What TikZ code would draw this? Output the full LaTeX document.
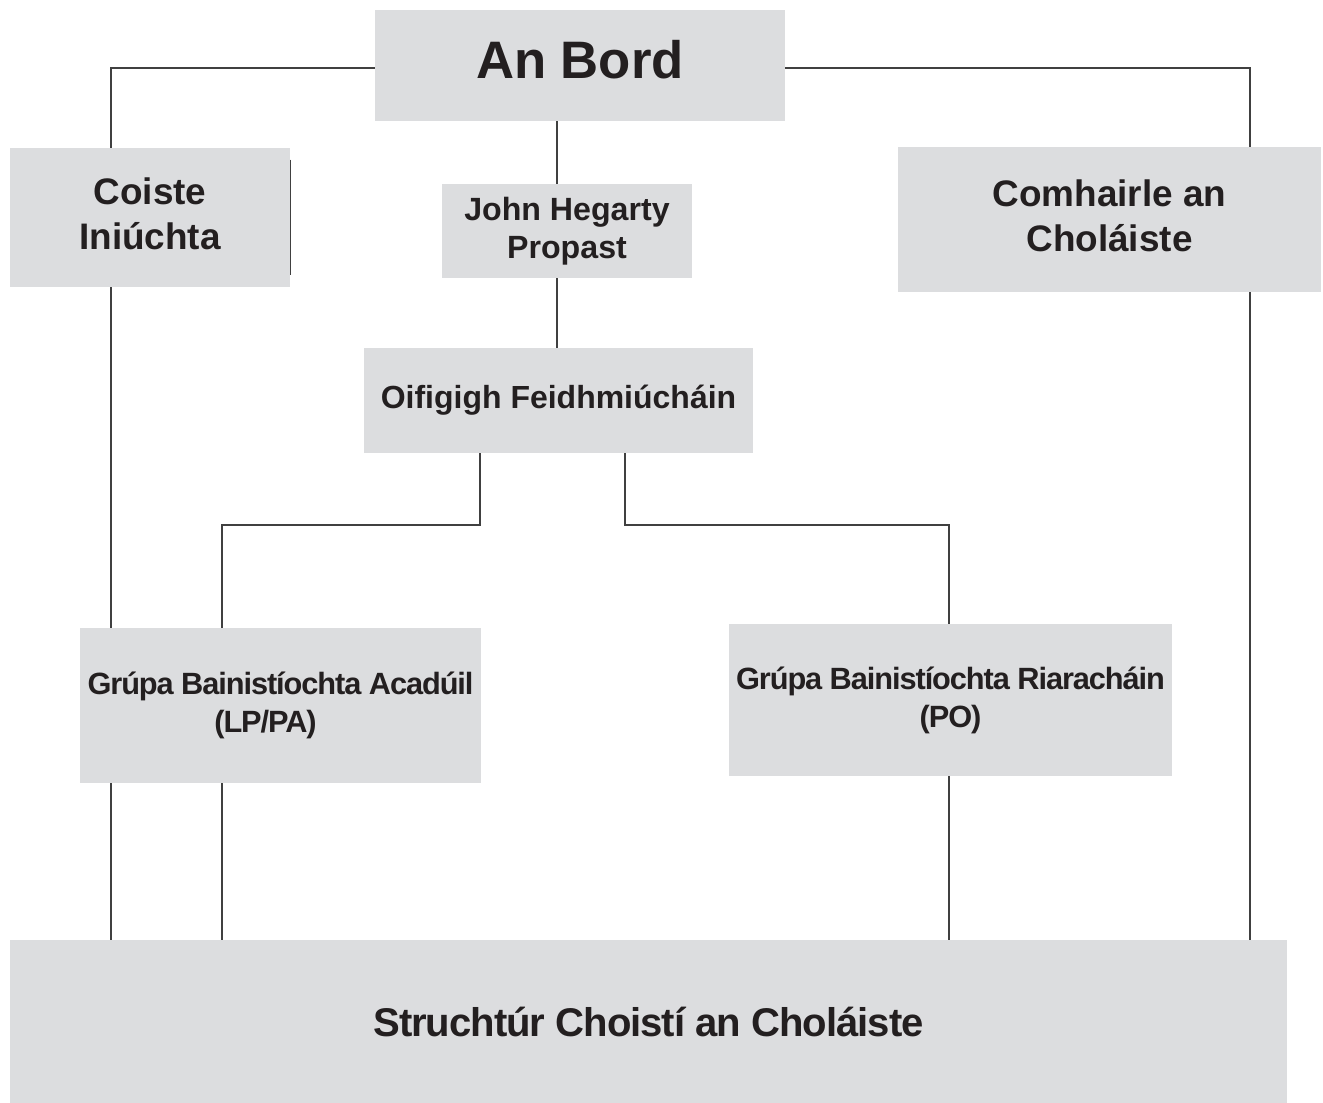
\documentclass[tikz,border=0pt]{standalone}
\usepackage{fontspec}
\setmainfont{Liberation Sans}
\usetikzlibrary{calc}
\definecolor{boxgray}{HTML}{DCDDDF}
\definecolor{inkdark}{HTML}{231F20}

\begin{document}
\begin{tikzpicture}[
  box/.style={fill=boxgray, text=inkdark, font=\bfseries, align=center, inner sep=0pt},
  tight/.style={font=\bfseries\fontsize{#1}{21.6}\selectfont\addfontfeature{LetterSpace=-3.5}},
  link/.style={draw=black!75, line width=0.8pt}]
\useasboundingbox (0,0) rectangle (26.46,-22.06);
% The boxes, placed at coordinates
\node [box, minimum width=8.2cm, minimum height=2.22cm] (bord) at (11.6,-1.31) {};
\node [box, font=\bfseries\fontsize{30}{36}\selectfont] at (11.6,-1.2) {An Bord};
\node [box, minimum width=5.6cm, minimum height=2.78cm] (coiste) at (3.0,-4.35) {};
\node [box, font=\bfseries\fontsize{21}{25.6}\selectfont] at (3.0,-4.27) {Coiste\\Iniúchta};
\node [box, minimum width=5.0cm, minimum height=1.88cm,
  font=\bfseries\fontsize{18.3}{21.6}\selectfont] (john) at (11.34,-4.62) {John Hegarty\\Propast};
\node [box, minimum width=8.46cm, minimum height=2.9cm] (comh) at (22.19,-4.39) {};
\node [box, font=\bfseries\fontsize{21}{25.6}\selectfont] at (22.19,-4.32) {Comhairle an\\Choláiste};
\node [box, minimum width=7.78cm, minimum height=2.1cm,
  font=\bfseries\fontsize{18.2}{22}\selectfont] (oif) at (11.17,-8.01) {Oifigigh Feidhmiúcháin};
\node [box, minimum width=8.02cm, minimum height=3.1cm, tight=17.5] (acad) at (5.61,-14.11)
  {Grúpa Bainistíochta Acadúil\\(LP/PA)\hspace*{0.6cm}};
\node [box, minimum width=8.86cm, minimum height=3.04cm, tight=17.5] (riar) at (19.01,-14.0)
  {Grúpa Bainistíochta Riaracháin\\(PO)};
\node [box, minimum width=25.54cm, minimum height=3.26cm,
  font=\bfseries\fontsize{22.8}{27}\selectfont\addfontfeature{LetterSpace=-2.5}] (struct) at (12.97,-20.43)
  {Struchtúr Choistí an Choláiste};
% The dark edge on the right of Coiste Iniúchta
\draw [link] ($(coiste.north east)+(0,-0.24)$) -- ($(coiste.south east)+(0,0.24)$);
% x positions of the vertical lines
\coordinate (xl) at (2.22,0);
\coordinate (xa) at (4.44,0);
\coordinate (xm) at (11.14,0);
\coordinate (xo) at (9.6,0);
\coordinate (xp) at (12.5,0);
\coordinate (xq) at (18.98,0);
\coordinate (xr) at (25.0,0);
\coordinate (top) at (0,-1.36);
\coordinate (fork) at (0,-10.5);
% The connectors
\draw [link] (bord.west |- top) -| (xl |- coiste.north);
\draw [link] (bord.east |- top) -| (xr |- comh.north);
\draw [link] (xm |- bord.south) -- (xm |- john.north);
\draw [link] (xm |- john.south) -- (xm |- oif.north);
\draw [link] (xo |- oif.south) |- (xo |- fork) -| (xa |- acad.north);
\draw [link] (xp |- oif.south) |- (xp |- fork) -| (xq |- riar.north);
\draw [link] (xl |- coiste.south) -- (xl |- acad.north);
\foreach \col/\top in {xl/acad, xa/acad, xq/riar, xr/comh} {
  \draw [link] (\col |- \top.south) -- (\col |- struct.north);
}
\end{tikzpicture}
\end{document}
